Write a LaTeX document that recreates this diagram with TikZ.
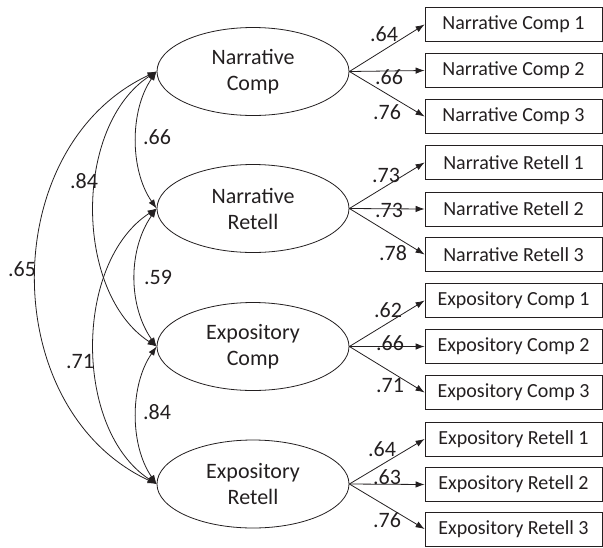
\documentclass[tikz,border=0pt]{standalone}
\usepackage{fontspec}
\setmainfont{Carlito}
\usetikzlibrary{shapes.geometric,arrows.meta}
\definecolor{ink}{RGB}{35,31,32}
\begin{document}
\begin{tikzpicture}[x=1pt,y=1pt,color=ink,
  latent/.style={ellipse,draw,line width=0.8pt,minimum width=192pt,minimum height=88pt,inner sep=0pt,align=center,font=\fontsize{22}{26}\selectfont},
  obs/.style={rectangle,draw,line width=0.8pt,minimum width=177pt,minimum height=34pt,inner sep=0pt,font=\fontsize{20}{24}\selectfont},
  load/.style={-{Latex[length=9pt,width=6.5pt]},line width=0.8pt},
  cov/.style={{Latex[length=9pt,width=6.5pt]}-{Latex[length=9pt,width=6.5pt]},line width=0.8pt},
  coef/.style={font=\fontsize{22}{24}\selectfont,inner sep=0pt}
]
\useasboundingbox (0,0) rectangle (603,-547);

% latent variables
\node[latent] (e1) at (253,-71.5) {Narrative\\Comp};
\node[latent] (e2) at (253,-208.5) {Narrative\\Retell};
\node[latent] (e3) at (253,-346.5) {Expository\\Comp};
\node[latent] (e4) at (253,-484) {Expository\\Retell};

% observed variables
\node[obs] (b11) at (513.5,-24.5) {Narrative Comp 1};
\node[obs] (b12) at (513.5,-70.5) {Narrative Comp 2};
\node[obs] (b13) at (513.5,-116.5) {Narrative Comp 3};
\node[obs] (b21) at (513.5,-162.5) {Narrative Retell 1};
\node[obs] (b22) at (513.5,-209) {Narrative Retell 2};
\node[obs] (b23) at (513.5,-254.5) {Narrative Retell 3};
\node[obs] (b31) at (513.5,-300.5) {Expository Comp 1};
\node[obs] (b32) at (513.5,-346.5) {Expository Comp 2};
\node[obs] (b33) at (513.5,-392.5) {Expository Comp 3};
\node[obs] (b41) at (513.5,-439) {Expository Retell 1};
\node[obs] (b42) at (513.5,-484.5) {Expository Retell 2};
\node[obs] (b43) at (513.5,-529) {Expository Retell 3};

% loadings
\foreach \g in {1,2,3,4}{
  \foreach \k in {1,2,3}{
    \draw[load] (e\g.east) -- (b\g\k.west);
  }
}
\node[coef] (l11) at (384,-34) {.64};
\node[coef] (l12) at (389,-77) {.66};
\node[coef] (l13) at (387,-112) {.76};
\node[coef] (l21) at (386,-175) {.73};
\node[coef] (l22) at (389,-210) {.73};
\node[coef] (l23) at (393,-253) {.78};
\node[coef] (l31) at (388,-310) {.62};
\node[coef] (l32) at (390,-343.5) {.66};
\node[coef] (l33) at (390,-385) {.71};
\node[coef] (l41) at (382,-449) {.64};
\node[coef] (l42) at (387,-477) {.63};
\node[coef] (l43) at (387,-520) {.76};

% correlations
\draw[cov] (e1.west) .. controls +(235:47) and +(125:47) .. (e2.west);
\draw[cov] (e2.west) .. controls +(235:50) and +(125:50) .. (e3.west);
\draw[cov] (e3.west) .. controls +(235:47) and +(125:47) .. (e4.west);
\draw[cov] (e1.west) .. controls +(213:99) and +(147:99) .. (e3.west);
\draw[cov] (e2.west) .. controls +(213:99) and +(147:99) .. (e4.west);
\draw[cov] (e1.west) .. controls +(205:177) and +(155:177) .. (e4.west);

\node[coef] (c12) at (157,-137.5) {.66};
\node[coef] (c13) at (84,-181) {.84};
\node[coef] (c14) at (22,-269) {.65};
\node[coef] (c23) at (158,-277.5) {.59};
\node[coef] (c24) at (80,-362) {.71};
\node[coef] (c34) at (157,-412) {.84};
\end{tikzpicture}
\end{document}
